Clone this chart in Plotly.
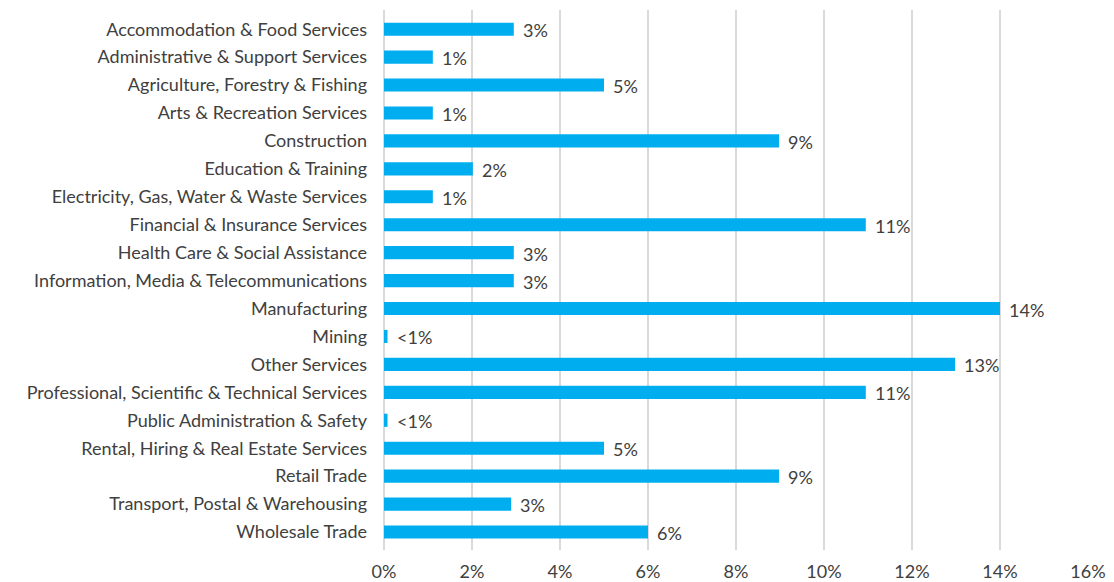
import plotly.graph_objects as go

categories = [
    "Accommodation & Food Services",
    "Administrative & Support Services",
    "Agriculture, Forestry & Fishing",
    "Arts & Recreation Services",
    "Construction",
    "Education & Training",
    "Electricity, Gas, Water & Waste Services",
    "Financial & Insurance Services",
    "Health Care & Social Assistance",
    "Information, Media & Telecommunications",
    "Manufacturing",
    "Mining",
    "Other Services",
    "Professional, Scientific & Technical Services",
    "Public Administration & Safety",
    "Rental, Hiring & Real Estate Services",
    "Retail Trade",
    "Transport, Postal & Warehousing",
    "Wholesale Trade",
]
values = [2.95, 1.11, 5.0, 1.11, 8.98, 2.02, 1.11, 10.95, 2.95, 2.95,
          14.0, 0.08, 12.98, 10.95, 0.08, 5.0, 8.98, 2.89, 6.0]
value_labels = ["3%", "1%", "5%", "1%", "9%", "2%", "1%", "11%", "3%", "3%",
                "14%", "<1%", "13%", "11%", "<1%", "5%", "9%", "3%", "6%"]
x_ticks = [0, 2, 4, 6, 8, 10, 12, 14, 16]
x_tick_labels = ["0%", "2%", "4%", "6%", "8%", "10%", "12%", "14%", "16%"]

FONT = "Lato, 'Open Sans', sans-serif"
TXT = "#404040"

fig = go.Figure()
fig.add_trace(go.Bar(
    x=values, y=categories, orientation="h",
    marker=dict(color="#00AEEF", line=dict(width=0)),
    width=0.47,
    hoverinfo="skip",
))

for v, c, lab in zip(values, categories, value_labels):
    fig.add_annotation(x=v, y=c, text=lab, showarrow=False,
                       xanchor="left", xshift=7, yshift=-1,
                       font=dict(family=FONT, size=18, color=TXT))

fig.update_layout(
    width=1114, height=582,
    margin=dict(l=384, r=26, t=10, b=32, autoexpand=False),
    paper_bgcolor="white", plot_bgcolor="white",
    showlegend=False,
    font=dict(family=FONT, size=18, color=TXT),
    xaxis=dict(range=[0, 16], tickvals=x_ticks, ticktext=x_tick_labels,
               showgrid=True, gridcolor="#D9D9D9", gridwidth=1.5,
               zeroline=True, zerolinecolor="#D9D9D9", zerolinewidth=1.5,
               showline=False, ticks="", ticklabelstandoff=9, automargin=False,
               tickfont=dict(family=FONT, size=18, color=TXT)),
    yaxis=dict(type="category", categoryorder="array", categoryarray=categories,
               range=[18.644, -0.687], showgrid=False, zeroline=False,
               showline=False, ticks="", ticklabelstandoff=16, automargin=False,
               tickfont=dict(family=FONT, size=18, color=TXT)),
)

fig.write_html("out.html")
